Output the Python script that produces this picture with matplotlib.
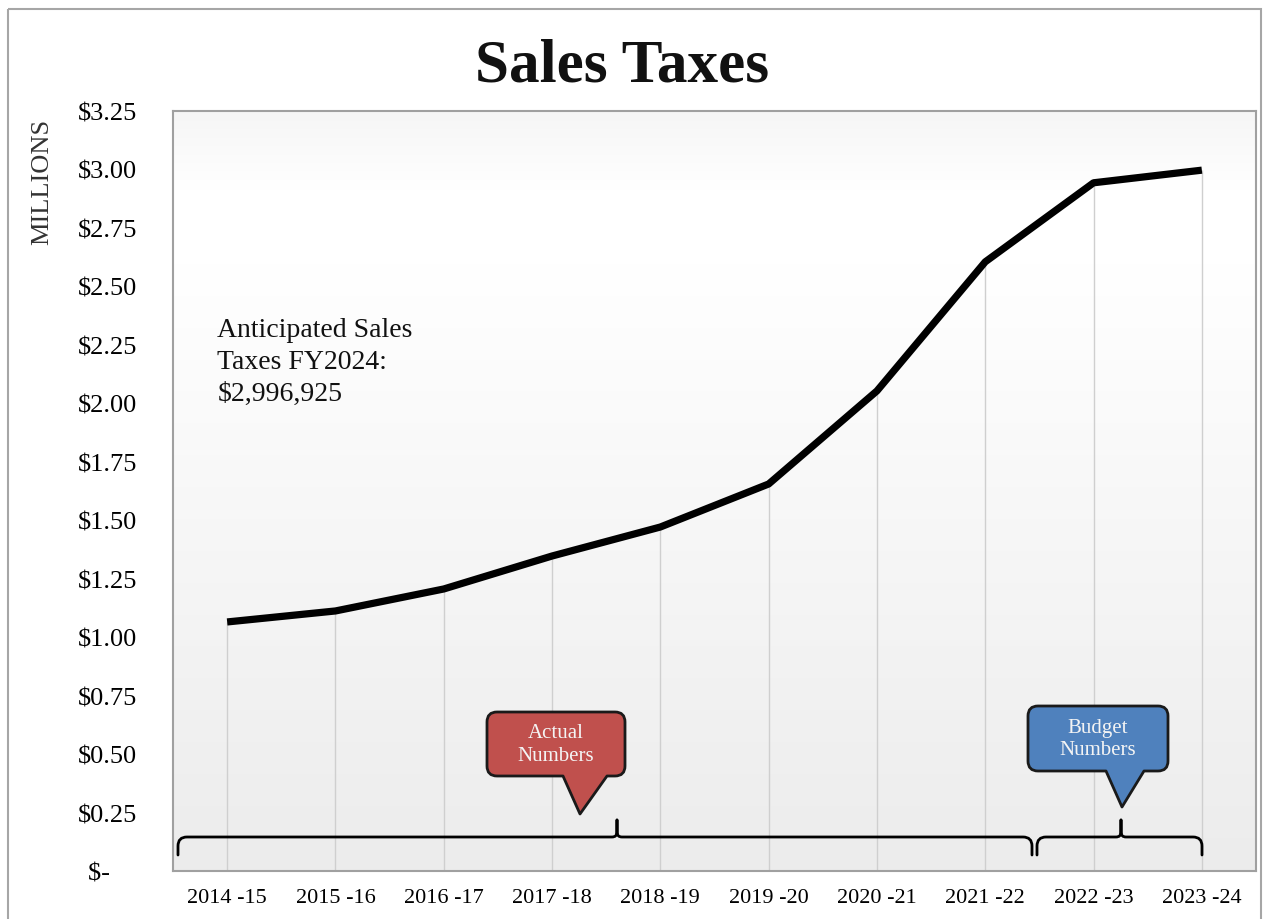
import numpy as np
import matplotlib
matplotlib.use("Agg")
import matplotlib.pyplot as plt
from matplotlib.path import Path
from matplotlib.patches import PathPatch, Rectangle
from matplotlib.transforms import Affine2D

years = ["2014 -15", "2015 -16", "2016 -17", "2017 -18", "2018 -19",
         "2019 -20", "2020 -21", "2021 -22", "2022 -23", "2023 -24"]
sales = [1.065, 1.112, 1.206, 1.347, 1.471, 1.655, 2.053, 2.605, 2.943, 2.997]
yticks = [0, 0.25, 0.5, 0.75, 1.0, 1.25, 1.5, 1.75, 2.0, 2.25, 2.5, 2.75, 3.0, 3.25]
note = "Anticipated Sales\nTaxes FY2024:\n$2,996,925"

plt.rcParams['font.family'] = ['Liberation Serif', 'DejaVu Serif']

W, H = 1265, 920
fig = plt.figure(figsize=(W / 100, H / 100), dpi=100)
# transform in reference pixel coordinates (origin top-left)
px = Affine2D().scale(1, -1).translate(0, H).scale(1 / W, 1 / H) + fig.transFigure

# outer frame
fig.patches.append(Rectangle((8, 10), W - 12, H - 8, transform=px, fill=False,
                             edgecolor='#a6a6a6', lw=1.5))

ax = fig.add_axes([173 / W, (H - 872) / H, (1256 - 173) / W, 760 / H])
x = np.arange(len(years))
ax.set_xlim(-0.5, len(years) - 0.5)
ax.set_ylim(0, 3.25)

# background gradient
grad = np.linspace(0, 1, 256).reshape(-1, 1)
cm = matplotlib.colors.LinearSegmentedColormap.from_list(
    'bg', [(0, '#ececec'), (0.8, '#ffffff'), (0.9, '#ffffff'), (1, '#f6f6f6')])
ax.imshow(grad, cmap=cm, aspect='auto', origin='lower',
          extent=(-0.5, len(years) - 0.5, 0, 3.25), zorder=0)

ax.vlines(x, 0, sales, color='#cfcfcf', lw=1, zorder=1)
ax.plot(x, sales, color='black', lw=5.2, solid_capstyle='butt', zorder=3)

for s in ax.spines.values():
    s.set_color('#a0a0a0')
    s.set_linewidth(1.5)

ax.set_yticks(yticks)
ax.set_yticklabels(["$-    "] + ["${:.2f}".format(v) for v in yticks[1:]], fontsize=19)
ax.set_xticks(x)
ax.set_xticklabels(years, fontsize=16)
ax.tick_params(axis='y', length=0, pad=26)
ax.tick_params(axis='x', length=0, pad=12)

fig.text(42 / W, 1 - 182 / H, "MILLIONS", rotation=90, fontsize=19,
         ha='center', va='center', color='#333333')
fig.text(622 / W, 1 - 67 / H, "Sales Taxes", fontsize=44, fontweight='bold',
         ha='center', va='center', color='#111111')

ax.text(-0.09, 2.37, note, fontsize=20, ha='left', va='top', linespacing=1.38,
        color='#111111', zorder=4)


def brace(x0, x1, xm, yb, ye, yt):
    r = 9
    verts = [(x0, ye), (x0, yb + r), (x0, yb), (x0 + r, yb),
             (xm - 5, yb), (xm, yb), (xm, yb - 5), (xm, yt),
             (xm, yt), (xm, yb - 5), (xm, yb), (xm + 5, yb),
             (x1 - r, yb), (x1, yb), (x1, yb + r), (x1, ye)]
    codes = [Path.MOVETO, Path.LINETO, Path.CURVE3, Path.CURVE3,
             Path.LINETO, Path.CURVE3, Path.CURVE3, Path.LINETO,
             Path.MOVETO, Path.LINETO, Path.CURVE3, Path.CURVE3,
             Path.LINETO, Path.CURVE3, Path.CURVE3, Path.LINETO]
    fig.patches.append(PathPatch(Path(verts, codes), transform=px, fill=False,
                                 edgecolor='black', lw=2, capstyle='round'))


brace(178, 1032, 617, 838, 856, 821)
brace(1037, 1202, 1121, 838, 856, 821)


def callout(l, t, r, b, b0, b1, tip, color, text):
    k = 10
    verts = [(l + k, t), (r - k, t), (r, t), (r, t + k),
             (r, b - k), (r, b), (r - k, b),
             (b1, b), tip, (b0, b),
             (l + k, b), (l, b), (l, b - k),
             (l, t + k), (l, t), (l + k, t), (l + k, t)]
    codes = [Path.MOVETO, Path.LINETO, Path.CURVE3, Path.CURVE3,
             Path.LINETO, Path.CURVE3, Path.CURVE3,
             Path.LINETO, Path.LINETO, Path.LINETO,
             Path.LINETO, Path.CURVE3, Path.CURVE3,
             Path.LINETO, Path.CURVE3, Path.CURVE3, Path.CLOSEPOLY]
    fig.patches.append(PathPatch(Path(verts, codes), transform=px,
                                 facecolor=color, edgecolor='#1a1a1a', lw=2,
                                 joinstyle='round'))
    fig.text((l + r) / 2 / W, 1 - (t + b) / 2 / H, text, fontsize=15,
             ha='center', va='center', color='#f4f4f4', linespacing=1.25)


callout(487, 713, 625, 777, 563, 607, (580, 815), '#c0504d', "Actual\nNumbers")
callout(1028, 707, 1168, 772, 1106, 1144, (1122, 808), '#4f81bd', "Budget\nNumbers")

fig.savefig("out.png", dpi=100)
